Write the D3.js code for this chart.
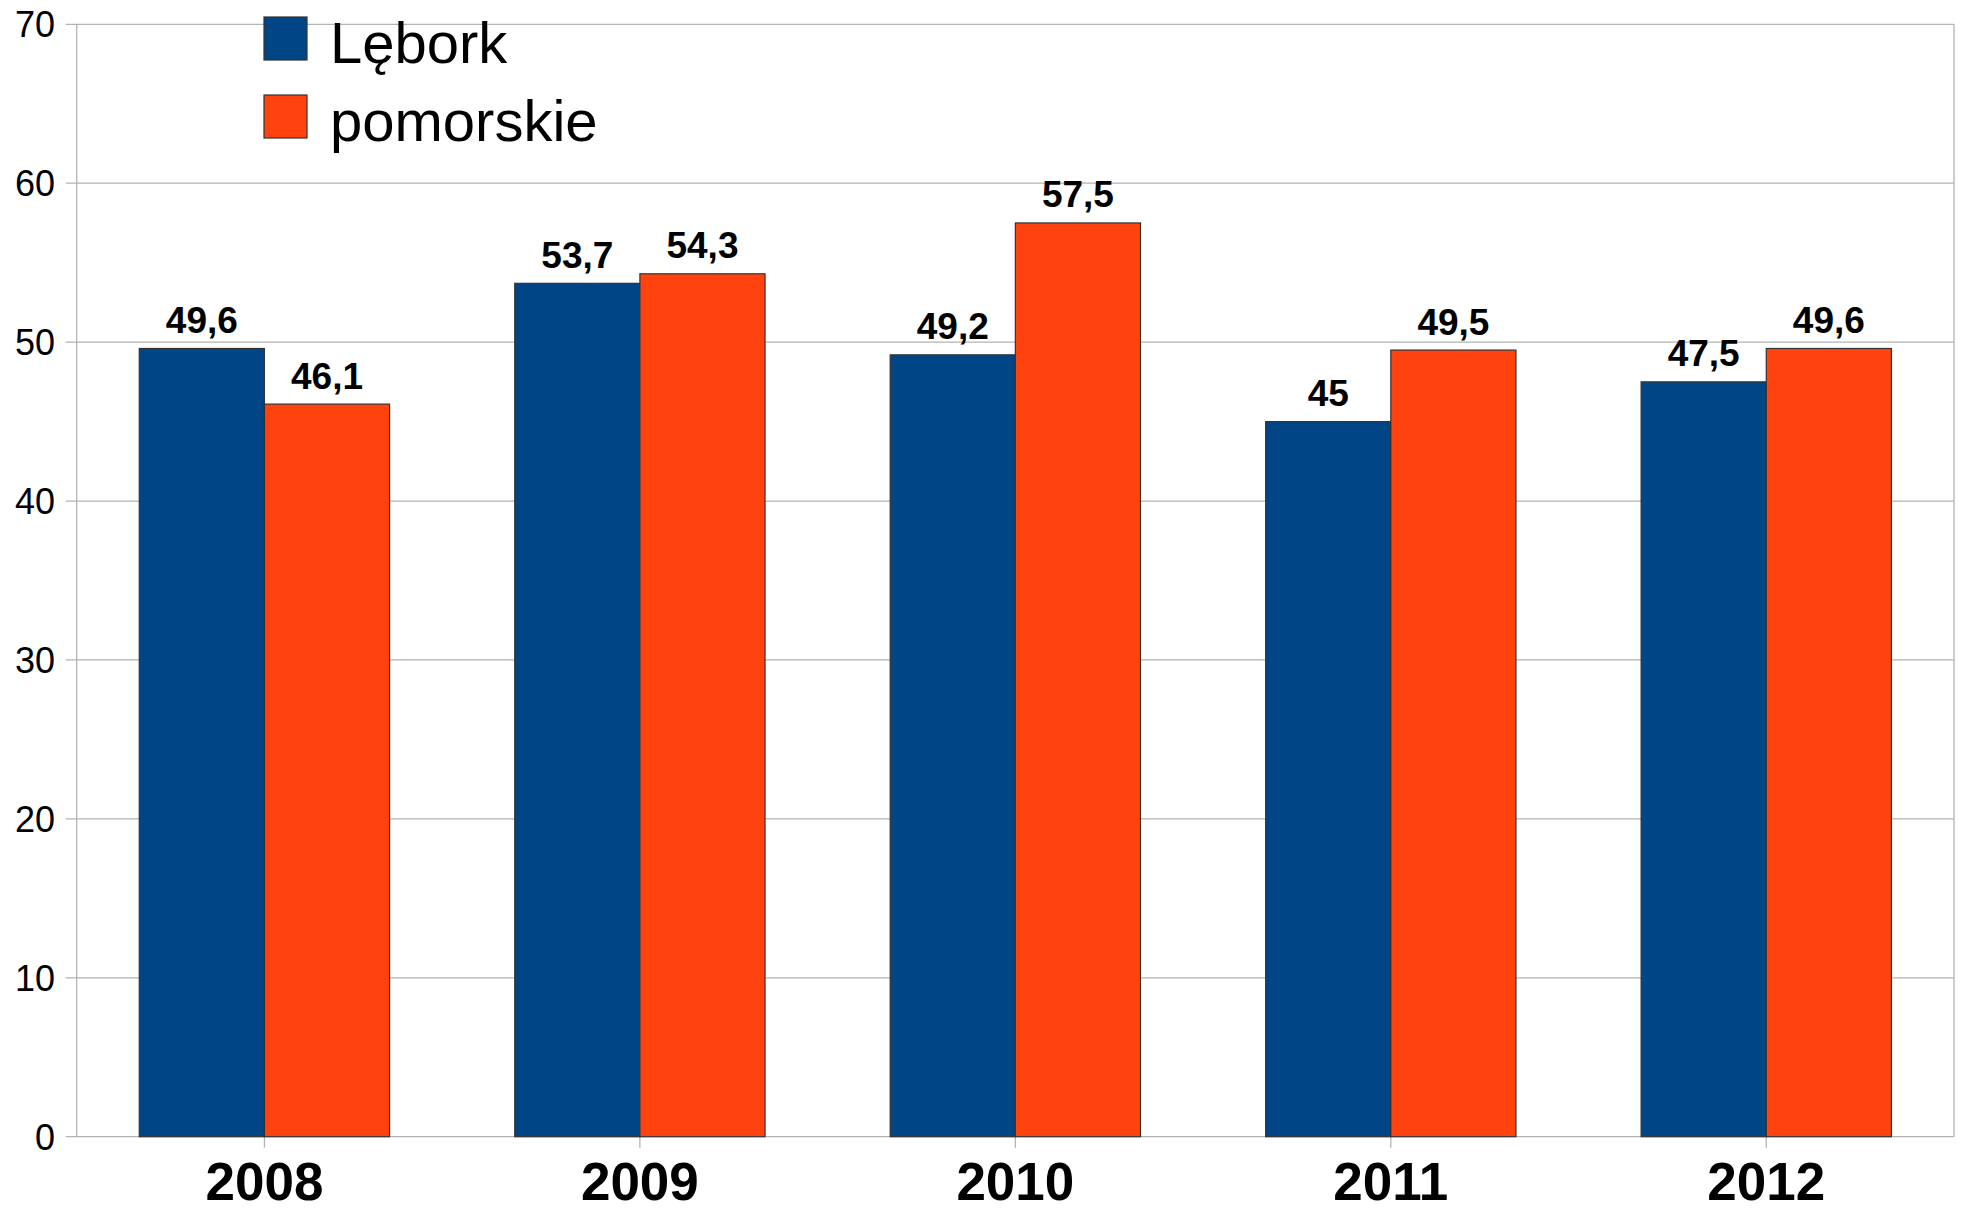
<!DOCTYPE html>
<html><head><meta charset="utf-8">
<script src="https://cdn.jsdelivr.net/npm/d3@7"></script>
<style>html,body{margin:0;padding:0;background:#fff;}svg{display:block;font-family:"Liberation Sans",Arial,sans-serif;}</style>
</head><body>
<svg id="chart" width="1963" height="1212"></svg>
<script>
const categories = ["2008","2009","2010","2011","2012"];
const seriesNames = ["Lębork","pomorskie"];
const lebork = [49.6, 53.7, 49.2, 45, 47.5];
const pomorskie = [46.1, 54.3, 57.5, 49.5, 49.6];
const yTicks = [0,10,20,30,40,50,60,70];
const colors = ["#004586","#ff420e"];

(function(){
const svg = d3.select("#chart");
const pLeft = 76.7, pRight = 1954, pTop = 24.3, pBottom = 1136.7;

const x = d3.scaleBand().domain(categories).range([pLeft, pRight]).paddingInner(1/3).paddingOuter(1/6);
const xs = d3.scaleBand().domain(seriesNames).range([0, x.bandwidth()]);
const y = d3.scaleLinear().domain([0,70]).range([pBottom, pTop]);

// gridlines
svg.append("g").selectAll("line").data(yTicks).join("line")
  .attr("x1", pLeft - 11).attr("x2", pRight)
  .attr("y1", d => y(d)).attr("y2", d => y(d))
  .attr("stroke", "#b3b3b3").attr("stroke-width", 1.3);
// frame
svg.append("line").attr("x1", pLeft).attr("x2", pLeft).attr("y1", pTop).attr("y2", pBottom).attr("stroke","#b3b3b3").attr("stroke-width",1.3);
svg.append("line").attr("x1", pRight).attr("x2", pRight).attr("y1", pTop).attr("y2", pBottom).attr("stroke","#b3b3b3").attr("stroke-width",1.3);
// x ticks
svg.append("g").selectAll("line").data(categories).join("line")
  .attr("x1", d => x(d) + x.bandwidth()/2).attr("x2", d => x(d) + x.bandwidth()/2)
  .attr("y1", pBottom).attr("y2", pBottom + 11)
  .attr("stroke", "#b3b3b3").attr("stroke-width", 1.3);

// y labels
svg.append("g").selectAll("text").data(yTicks).join("text")
  .attr("x", 55).attr("y", d => y(d)).attr("dy", "0.36em")
  .attr("text-anchor", "end").attr("font-size", 36).attr("fill", "#000")
  .text(d => d);

// x labels
svg.append("g").selectAll("text").data(categories).join("text")
  .attr("x", d => x(d) + x.bandwidth()/2).attr("y", 1200)
  .attr("text-anchor", "middle").attr("font-size", 53).attr("font-weight", "bold").attr("fill", "#000")
  .text(d => d);

const data = categories.map((c, i) => ({c, vals: [lebork[i], pomorskie[i]]}));
const fmt = v => String(v).replace(".", ",");

const groups = svg.append("g").selectAll("g").data(data).join("g")
  .attr("transform", d => `translate(${x(d.c)},0)`);
groups.selectAll("rect").data(d => d.vals.map((v, j) => ({v, s: seriesNames[j], j}))).join("rect")
  .attr("x", d => xs(d.s)).attr("width", xs.bandwidth())
  .attr("y", d => y(d.v)).attr("height", d => pBottom - y(d.v))
  .attr("fill", d => colors[d.j]).attr("stroke", "#333").attr("stroke-width", 1.2);
groups.selectAll("text").data(d => d.vals.map((v, j) => ({v, s: seriesNames[j], j}))).join("text")
  .attr("x", d => xs(d.s) + xs.bandwidth()/2).attr("y", d => y(d.v) - 15.5)
  .attr("text-anchor", "middle").attr("font-size", 37).attr("font-weight", "bold").attr("fill", "#000")
  .text(d => fmt(d.v));

// legend
const leg = svg.append("g").selectAll("g").data(seriesNames).join("g")
  .attr("transform", (d, i) => `translate(264,${17 + i*78})`);
leg.append("rect").attr("width", 43).attr("height", 43)
  .attr("fill", (d, i) => colors[i]).attr("stroke", "#333").attr("stroke-width", 1.2);
leg.append("text").attr("x", 66).attr("y", 46).attr("font-size", 58).attr("fill", "#000").text(d => d);
})();
</script>
</body></html>
